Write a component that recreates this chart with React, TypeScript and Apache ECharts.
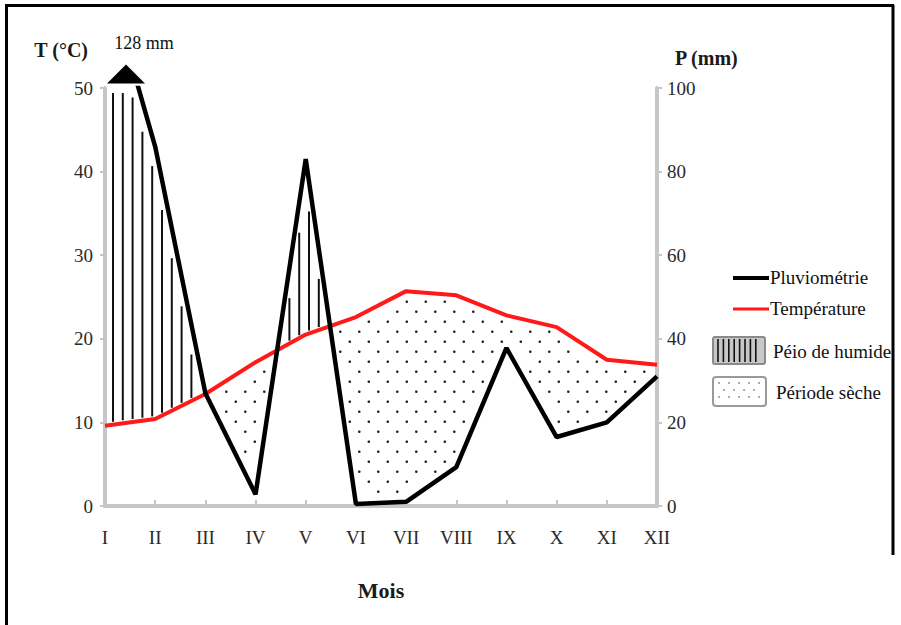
import React, { useEffect, useRef } from 'react';
import * as echarts from 'echarts';

const months = ['I', 'II', 'III', 'IV', 'V', 'VI', 'VII', 'VIII', 'IX', 'X', 'XI', 'XII'];
const temperature = [9.6, 10.4, 13.4, 17.2, 20.5, 22.6, 25.7, 25.2, 22.8, 21.4, 17.5, 16.9];
const precipitation = [128, 86, 27, 2.8, 83, 0.5, 1, 9.3, 37.8, 16.5, 20, 31];
const tAxis = { min: 0, max: 50, interval: 10 };
const pAxis = { min: 0, max: 100, interval: 20 };
const peakLabel = '128 mm';
const legendNames = ['Pluviométrie', 'Température', 'Péio de humide', 'Période sèche'];

const FONT = 'Liberation Serif';
const AXIS_GRAY = '#c6c6c6';

function renderPeriods(params: any, api: any) {
  if (params.dataIndex !== 0) return null;
  const cs = params.coordSys;
  const top = cs.y;
  const bottom = cs.y + cs.height;
  const pts = months.map((_, i) => {
    const a = api.coord([i, temperature[i]]);
    const b = api.coord([i, precipitation[i] * (tAxis.max / pAxis.max)]);
    return [a[0], a[1], b[1]];
  });
  const at = (x: number) => {
    for (let i = 0; i < pts.length - 1; i++) {
      if (x >= pts[i][0] && x <= pts[i + 1][0]) {
        const f = (x - pts[i][0]) / (pts[i + 1][0] - pts[i][0]);
        return [pts[i][1] + f * (pts[i + 1][1] - pts[i][1]), pts[i][2] + f * (pts[i + 1][2] - pts[i][2])];
      }
    }
    return null;
  };
  const children: any[] = [];
  const x0 = pts[0][0];
  const x1 = pts[pts.length - 1][0];
  // humid period: vertical hatching
  for (let x = x0 + 8; x < x1; x += 9.8) {
    const v = at(x);
    if (!v) continue;
    const [yT, yP] = v;
    if (yP >= yT) continue;
    const y1 = Math.max(yP + 30, top + 5);
    const y2 = yT - 3;
    if (y2 - y1 < 8) continue;
    children.push({
      type: 'line',
      shape: { x1: x, y1, x2: x, y2 },
      style: { stroke: '#111', lineWidth: 2 },
    });
  }
  // dry period: dots
  const inside = (x: number, y: number) => {
    for (const dx of [-5, 0, 5]) {
      const v = at(x + dx);
      if (!v) return false;
      const [yT, yP] = v;
      if (yP <= yT) return false;
      if (!(y > yT + 5 && y < yP - 5)) return false;
    }
    return true;
  };
  let r = 0;
  for (let y = top + 3.7; y < bottom; y += 10, r++) {
    for (let x = x0 + 7.3 + (r % 2) * 9.5; x < x1; x += 19) {
      if (inside(x, y)) {
        children.push({ type: 'circle', shape: { cx: x, cy: y, r: 1.3 }, style: { fill: '#222' } });
      }
    }
  }
  return { type: 'group', children };
}

function legendGraphics() {
  const els: any[] = [];
  const textStyle = (text: string, x: number, y: number) => ({
    type: 'text',
    x,
    y,
    style: { text, font: `19px "${FONT}"`, fill: '#111', verticalAlign: 'middle', align: 'left' },
  });
  els.push({ type: 'line', shape: { x1: 733, y1: 278, x2: 769, y2: 278 }, style: { stroke: '#000', lineWidth: 4 } });
  els.push(textStyle(legendNames[0], 770, 277));
  els.push({ type: 'line', shape: { x1: 733, y1: 309, x2: 769, y2: 309 }, style: { stroke: '#ff1a1a', lineWidth: 3 } });
  els.push(textStyle(legendNames[1], 770, 308));
  // hatch box
  els.push({ type: 'rect', shape: { x: 713, y: 337, width: 52, height: 27, r: 2 }, style: { fill: '#c8c8c8', stroke: '#8a8a8a', lineWidth: 2 } });
  for (let x = 718; x <= 761; x += 5.4) {
    els.push({ type: 'line', shape: { x1: x, y1: 339, x2: x, y2: 362 }, style: { stroke: '#111', lineWidth: 1.6 } });
  }
  els.push(textStyle(legendNames[2], 773, 351));
  // dotted box
  els.push({ type: 'rect', shape: { x: 713, y: 377, width: 53, height: 29, r: 3 }, style: { fill: '#fff', stroke: '#9a9a9a', lineWidth: 2 } });
  let r = 0;
  for (let y = 383; y < 404; y += 7, r++) {
    for (let x = 719 + (r % 2) * 5; x < 763; x += 10) {
      els.push({ type: 'circle', shape: { cx: x, cy: y, r: 0.9 }, style: { fill: '#888' } });
    }
  }
  els.push(textStyle(legendNames[3], 776, 392));
  // frame
  els.push({ type: 'line', shape: { x1: 5, y1: 5.5, x2: 894, y2: 5.5 }, style: { stroke: '#000', lineWidth: 3 } });
  els.push({ type: 'line', shape: { x1: 6.5, y1: 5, x2: 6.5, y2: 625 }, style: { stroke: '#000', lineWidth: 3 } });
  els.push({ type: 'line', shape: { x1: 893, y1: 5, x2: 893, y2: 555 }, style: { stroke: '#000', lineWidth: 3 } });
  return els;
}

export default function App() {
  const ref = useRef<HTMLDivElement>(null);
  useEffect(() => {
    if (!ref.current) return;
    const chart = echarts.init(ref.current, undefined, { renderer: 'svg' });
    const option: any = {
      animation: false,
      backgroundColor: '#ffffff',
      textStyle: { fontFamily: FONT },
      grid: { left: 105, right: 244, top: 88, bottom: 119, containLabel: false },
      xAxis: {
        type: 'category',
        data: months,
        boundaryGap: false,
        name: 'Mois',
        nameLocation: 'middle',
        nameGap: 73,
        nameTextStyle: { fontFamily: FONT, fontSize: 22, fontWeight: 'bold', color: '#1a1a1a' },
        axisLine: { show: true, lineStyle: { color: AXIS_GRAY, width: 4 } },
        axisTick: { show: true, inside: true, length: 6, lineStyle: { color: AXIS_GRAY, width: 2 } },
        axisLabel: { fontFamily: FONT, fontSize: 19, color: '#2a2a2a', margin: 22 },
        splitLine: { show: false },
      },
      yAxis: [
        {
          type: 'value',
          min: tAxis.min,
          max: tAxis.max,
          interval: tAxis.interval,
          position: 'left',
          name: 'T (°C)',
          nameLocation: 'end',
          nameGap: 28,
          nameTextStyle: { fontFamily: FONT, fontSize: 20, fontWeight: 'bold', color: '#1a1a1a', align: 'right', padding: [0, 17, 0, 0] },
          axisLine: { show: true, lineStyle: { color: AXIS_GRAY, width: 4 } },
          axisTick: { show: true, length: 5, lineStyle: { color: AXIS_GRAY, width: 2 } },
          axisLabel: { fontFamily: FONT, fontSize: 19, color: '#2a2a2a', margin: 12 },
          splitLine: { show: false },
        },
        {
          type: 'value',
          min: pAxis.min,
          max: pAxis.max,
          interval: pAxis.interval,
          position: 'right',
          name: 'P (mm)',
          nameLocation: 'end',
          nameGap: 20,
          nameTextStyle: { fontFamily: FONT, fontSize: 20, fontWeight: 'bold', color: '#1a1a1a', align: 'left', padding: [0, 0, 0, 18] },
          axisLine: { show: true, lineStyle: { color: AXIS_GRAY, width: 4 } },
          axisTick: { show: true, length: 5, lineStyle: { color: AXIS_GRAY, width: 2 } },
          axisLabel: { fontFamily: FONT, fontSize: 19, color: '#2a2a2a', margin: 10 },
          splitLine: { show: false },
        },
      ],
      series: [
        {
          type: 'custom',
          name: 'périodes',
          xAxisIndex: 0,
          yAxisIndex: 0,
          data: [[0, 0]],
          encode: { x: 0, y: 1 },
          renderItem: renderPeriods,
          silent: true,
          clip: false,
          z: 1,
        },
        {
          type: 'line',
          name: legendNames[1],
          yAxisIndex: 0,
          data: temperature,
          symbol: 'none',
          lineStyle: { color: '#ff1a1a', width: 4 },
          itemStyle: { color: '#ff1a1a' },
          z: 3,
        },
        {
          type: 'line',
          name: legendNames[0],
          yAxisIndex: 1,
          data: precipitation,
          symbol: 'none',
          clip: true,
          lineStyle: { color: '#000', width: 4.5 },
          itemStyle: { color: '#000' },
          z: 4,
          markPoint: {
            symbol: 'triangle',
            symbolSize: [38, 19],
            symbolOffset: [21, -14],
            itemStyle: { color: '#000' },
            label: {
              show: true,
              formatter: peakLabel,
              position: 'top',
              distance: 13,
              offset: [18, 0],
              fontFamily: FONT,
              fontSize: 18,
              color: '#111',
            },
            data: [{ coord: [months[0], pAxis.max], value: precipitation[0] }],
          },
        },
      ],
      graphic: legendGraphics(),
    };
    chart.setOption(option);
    return () => chart.dispose();
  }, []);
  return <div ref={ref} style={{ position: 'fixed', left: 0, top: 0, width: 901, height: 625, background: '#fff' }} />;
}
